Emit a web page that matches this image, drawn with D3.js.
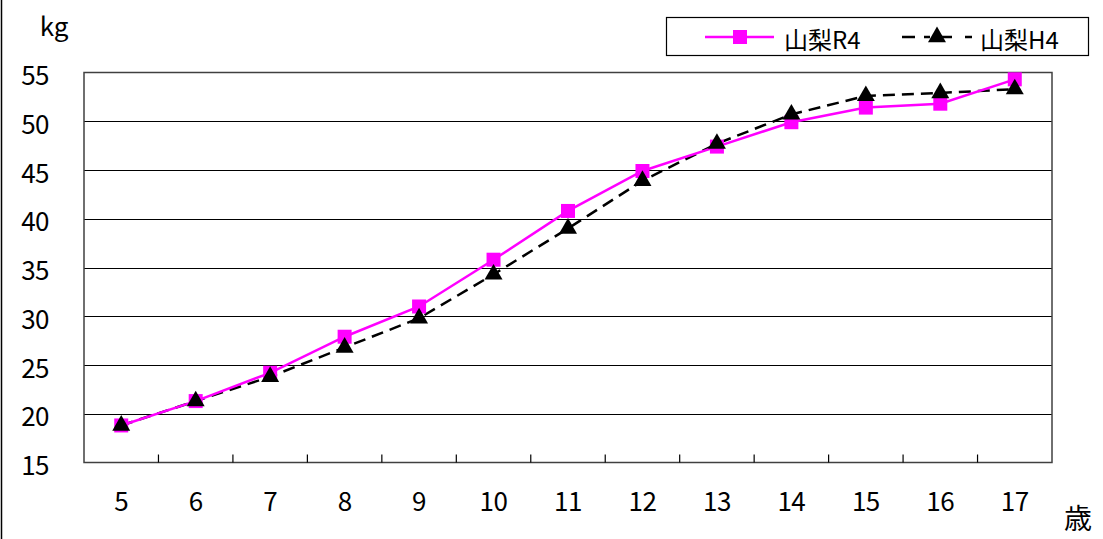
<!DOCTYPE html>
<html><head><meta charset="utf-8">
<script src="https://cdn.jsdelivr.net/npm/d3@7"></script>
<style>
html,body{margin:0;padding:0;background:#fff;}
text{font-family:"Noto Sans CJK JP","Noto Sans",sans-serif;fill:#000;}
</style></head>
<body>
<svg id="c" width="1103" height="539"></svg>
<script>
const ages = [5,6,7,8,9,10,11,12,13,14,15,16,17];
const seriesNames = ["山梨R4","山梨H4"];
const r4 = [18.8,21.3,24.2,27.9,31.0,35.8,40.8,44.9,47.4,49.9,51.4,51.8,54.3];
const h4 = [18.8,21.3,23.8,26.8,29.8,34.3,39.0,43.9,47.7,50.7,52.6,52.9,53.3];
const yTicks = [15,20,25,30,35,40,45,50,55];

const svg = d3.select("#c");
const L = 84, R = 1052, T = 72.5, B = 462.5;
const x = d3.scaleBand().domain(ages).range([L, R]);
const y = d3.scaleLinear().domain([15,55]).range([B, T]);
const cx = d => x(d) + x.bandwidth()/2;

// outer left border
svg.append("line").attr("x1",1.5).attr("x2",1.5).attr("y1",0).attr("y2",539)
  .attr("stroke","#000").attr("stroke-width",1.5);

// gridlines
svg.append("g").selectAll("line").data(yTicks.filter(t=>t>15 && t<55)).join("line")
  .attr("x1",L).attr("x2",R).attr("y1",d=>Math.round(y(d))+0.5).attr("y2",d=>Math.round(y(d))+0.5)
  .attr("stroke","#000").attr("stroke-width",1.2);

// plot border
svg.append("rect").attr("x",L).attr("y",T).attr("width",R-L).attr("height",B-T)
  .attr("fill","none").attr("stroke","#404040").attr("stroke-width",1.5);

// x axis ticks (inside, at category boundaries)
svg.append("g").selectAll("line").data(ages.slice(1)).join("line")
  .attr("x1",d=>x(d)).attr("x2",d=>x(d)).attr("y1",B).attr("y2",B-8)
  .attr("stroke","#000").attr("stroke-width",1.2);

// y labels
svg.append("g").selectAll("text").data(yTicks).join("text")
  .attr("x",49).attr("y",d=>y(d)+1).attr("text-anchor","end").attr("dominant-baseline","central")
  .attr("font-size",26).attr("letter-spacing",-0.5).text(d=>d);
// x labels
svg.append("g").selectAll("text").data(ages).join("text")
  .attr("x",d=>cx(d)).attr("y",499).attr("text-anchor","middle").attr("dominant-baseline","central")
  .attr("font-size",26).attr("letter-spacing",-0.5).text(d=>d);

svg.append("text").attr("x",54).attr("y",24).attr("text-anchor","middle").attr("dominant-baseline","central")
  .attr("font-size",26).text("kg");
svg.append("text").attr("x",1078).attr("y",517).attr("text-anchor","middle").attr("dominant-baseline","central")
  .attr("font-size",28).text("歳");

const line = d3.line().x((d,i)=>cx(ages[i])).y(d=>y(d));

// H4 dashed black
svg.append("path").attr("d",line(h4)).attr("fill","none").attr("stroke","#000")
  .attr("stroke-width",2.5).attr("stroke-dasharray","12,7");
// R4 magenta
svg.append("path").attr("d",line(r4)).attr("fill","none").attr("stroke","#FF00FF")
  .attr("stroke-width",2.5);

const sq = d3.symbol().type(d3.symbolSquare).size(196);
const tri = d3.symbol().type(d3.symbolTriangle).size(140);

svg.append("g").selectAll("path").data(r4).join("path")
  .attr("d",sq).attr("transform",(d,i)=>`translate(${cx(ages[i])},${y(d)})`)
  .attr("fill","#FF00FF");
svg.append("g").selectAll("path").data(h4).join("path")
  .attr("d",tri).attr("transform",(d,i)=>`translate(${cx(ages[i])},${y(d)})`)
  .attr("fill","#000");

// legend
const lg = svg.append("g");
lg.append("rect").attr("x",666.5).attr("y",17.5).attr("width",422).attr("height",38)
  .attr("fill","#fff").attr("stroke","#000").attr("stroke-width",1.2);
lg.append("line").attr("x1",705).attr("x2",774).attr("y1",37).attr("y2",37)
  .attr("stroke","#FF00FF").attr("stroke-width",2.5);
lg.append("path").attr("d",sq).attr("transform","translate(740,37)").attr("fill","#FF00FF");
lg.append("text").attr("x",784).attr("y",38).attr("dominant-baseline","central")
  .attr("font-size",24).text(seriesNames[0]);
lg.append("line").attr("x1",902).attr("x2",972).attr("y1",37).attr("y2",37)
  .attr("stroke","#000").attr("stroke-width",2.5).attr("stroke-dasharray","13,9,6,9,13");
lg.append("path").attr("d",tri).attr("transform","translate(937,37)").attr("fill","#000");
lg.append("text").attr("x",980).attr("y",38).attr("dominant-baseline","central")
  .attr("font-size",24).text(seriesNames[1]);
</script>
</body></html>
